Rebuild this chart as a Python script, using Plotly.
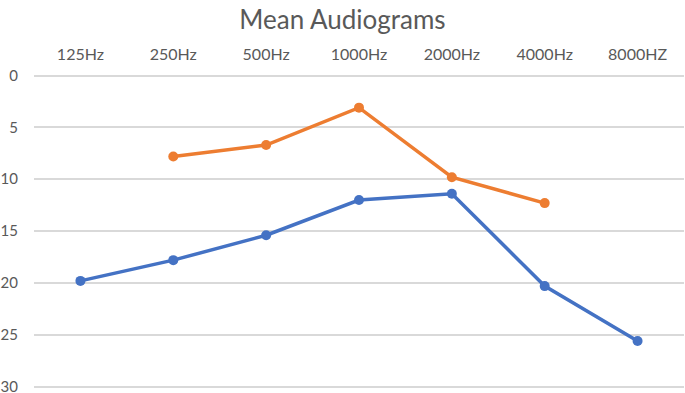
import plotly.graph_objects as go

categories = ["125Hz", "250Hz", "500Hz", "1000Hz", "2000Hz", "4000Hz", "8000HZ"]
series1 = [19.8, 17.8, 15.4, 12.0, 11.4, 20.3, 25.6]
series2 = [None, 7.8, 6.7, 3.1, 9.8, 12.3, None]
y_ticks = [0, 5, 10, 15, 20, 25, 30]

BLUE = "#4472C4"
ORANGE = "#ED7D31"
TEXT = "#595959"
FONT = "Lato"

fig = go.Figure()
fig.add_trace(go.Scatter(x=categories, y=series1, mode="lines+markers",
                         line=dict(color=BLUE, width=3.5),
                         marker=dict(color=BLUE, size=10), connectgaps=False,
                         showlegend=False))
fig.add_trace(go.Scatter(x=categories, y=series2, mode="lines+markers",
                         line=dict(color=ORANGE, width=3.5),
                         marker=dict(color=ORANGE, size=10), connectgaps=False,
                         showlegend=False))

fig.update_layout(
    width=685, height=402,
    margin=dict(l=33.5, r=0.5, t=74, b=13),
    paper_bgcolor="white", plot_bgcolor="white",
    title=dict(text="Mean Audiograms", x=0.5, xanchor="center", y=1 - 20 / 402, yanchor="middle",
               font=dict(family=FONT, size=26, color=TEXT)),
    font=dict(family=FONT, size=16, color=TEXT),
    xaxis=dict(type="category", categoryorder="array", categoryarray=categories,
               side="top", range=[-0.5, 6.5], showgrid=False, showline=False,
               zeroline=False, ticks="", ticklabelstandoff=10, automargin=False,
               tickfont=dict(family=FONT, size=16, color=TEXT)),
    yaxis=dict(range=[30.22, -0.145], tickvals=y_ticks, showgrid=True, gridcolor="#d9d9d9",
               gridwidth=1.5, zeroline=False, showline=False, ticks="",
               ticklabelstandoff=15, automargin=False,
               tickfont=dict(family=FONT, size=15, color=TEXT)),
)

fig.write_html("out.html", config={"displayModeBar": False},
               post_script="document.body.style.margin='0';document.body.style.overflow='hidden';")
